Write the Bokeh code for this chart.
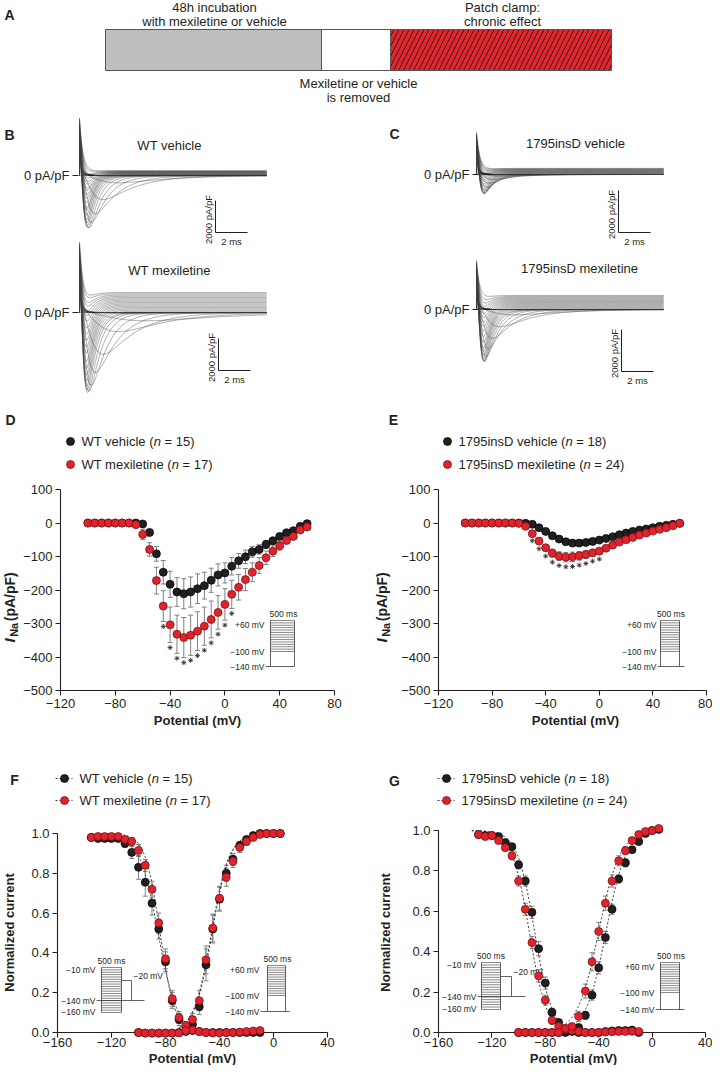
import numpy as np
from bokeh.plotting import figure
from bokeh.models import Range1d, LinearAxis, FixedTicker, Whisker, TeeHead, ColumnDataSource
from bokeh.layouts import column, row
from bokeh.embed import file_html
from bokeh.resources import INLINE
from bokeh.core.properties import value

# ============================ DATA ============================
# Panels D / E : peak I_Na (pA/pF) versus test potential (mV), mean and SEM
iv_mv = list(range(-100, 65, 5))
wt_vehicle_ina = [0, 0, 0, 0, 0, 0, 0, 0, -3, -28, -92, -147, -183, -206, -211, -206, -196, -187, -171, -155,
                  -149, -129, -113, -101, -86, -79, -64, -53, -40, -29, -23, -10, -2]
wt_vehicle_ina_sem = [0, 0, 0, 0, 0, 0, 0, 0, 3, 8, 22, 35, 39, 43, 45, 45, 44, 40, 36, 33,
                      30, 26, 22, 20, 16, 14, 12, 10, 8, 7, 6, 5, 4]
wt_mexiletine_ina = [0, 0, 0, 0, 0, 0, 0, -5, -34, -79, -172, -248, -304, -332, -342, -335, -323, -308, -288, -267,
                     -243, -213, -192, -169, -147, -127, -104, -84, -68, -52, -40, -21, -12]
wt_mexiletine_ina_sem = [0, 0, 0, 0, 0, 0, 0, 4, 15, 20, 40, 46, 53, 57, 60, 60, 58, 57, 55, 50,
                         47, 42, 38, 33, 28, 24, 20, 16, 13, 10, 8, 6, 5]
wt_signif_mv = [-45, -40, -35, -30, -25, -20, -15, -10, -5, 0, 5]

ins_vehicle_ina = [0, 0, 0, 0, 0, 0, 0, 0, 0, -1, -4, -14, -25, -38, -48, -56, -60, -60, -58, -55,
                   -51, -46, -41, -35, -30, -25, -21, -18, -14, -10, -7, -4, -1]
ins_vehicle_ina_sem = [0, 0, 0, 0, 0, 0, 0, 0, 1, 2, 3, 4, 5, 6, 6, 6, 6, 6, 6, 6,
                       5, 5, 5, 4, 4, 4, 3, 3, 3, 2, 2, 2, 2]
ins_mexiletine_ina = [0, 0, 0, 0, 0, 0, 0, 0, -1, -10, -32, -54, -74, -90, -99, -102, -101, -98, -94, -89,
                      -84, -75, -66, -57, -50, -43, -36, -30, -24, -19, -14, -8, -1]
ins_mexiletine_ina_sem = [0, 0, 0, 0, 0, 0, 0, 0, 2, 4, 6, 8, 10, 12, 13, 14, 14, 13, 12, 10,
                          9, 8, 7, 6, 5, 5, 4, 4, 3, 3, 3, 2, 2]
ins_signif_mv = [-50, -45, -40, -35, -30, -25, -20, -15, -10, -5, 0]

# Panels F / G : normalised steady-state inactivation and activation
wt_inact_mv = list(range(-135, -5, 5))
wt_vehicle_inact = [0.98, 0.975, 0.975, 0.975, 0.975, 0.95, 0.905, 0.83, 0.755, 0.65, 0.52, 0.355, 0.16,
                    0.065, 0.03, 0.01, 0.005, 0.0, 0.0, 0.0, 0.0, 0.0, 0.0, 0.0, 0.0, 0.0]
wt_vehicle_inact_sem = [0.01, 0.01, 0.01, 0.01, 0.01, 0.02, 0.03, 0.06, 0.07, 0.06, 0.05, 0.05, 0.04,
                        0.03, 0.02, 0.01, 0, 0, 0, 0, 0, 0, 0, 0, 0, 0]
wt_mexiletine_inact = [0.98, 0.985, 0.985, 0.985, 0.985, 0.97, 0.96, 0.915, 0.84, 0.72, 0.55, 0.37, 0.17,
                       0.075, 0.035, 0.012, 0.005, 0.0, -0.002, -0.002, 0.0, 0.0, 0.002, 0.005, 0.008, 0.01]
wt_mexiletine_inact_sem = [0.01, 0.01, 0.01, 0.01, 0.01, 0.015, 0.02, 0.03, 0.03, 0.04, 0.05, 0.05, 0.04,
                           0.03, 0.02, 0.01, 0, 0, 0, 0, 0, 0, 0, 0, 0, 0]
act_mv = list(range(-100, 10, 5))
wt_vehicle_act = [0.0, -0.003, -0.003, -0.003, -0.003, -0.003, 0.0, 0.005, 0.04, 0.13, 0.34, 0.52,
                  0.67, 0.80, 0.87, 0.94, 0.97, 0.99, 1.0, 1.0, 1.0, 1.0]
wt_vehicle_act_sem = [0, 0, 0, 0, 0, 0, 0, 0.01, 0.02, 0.04, 0.08, 0.07, 0.06, 0.04, 0.03, 0.02,
                      0.01, 0.01, 0.005, 0, 0, 0]
wt_mexiletine_act = [0.0, -0.003, -0.003, -0.003, -0.003, -0.003, -0.002, 0.01, 0.065, 0.16, 0.365, 0.525,
                     0.675, 0.78, 0.86, 0.93, 0.96, 0.98, 0.995, 1.0, 1.0, 1.0]
wt_mexiletine_act_sem = [0, 0, 0, 0, 0, 0, 0, 0.01, 0.03, 0.05, 0.07, 0.07, 0.06, 0.045, 0.03, 0.025,
                         0.02, 0.01, 0.005, 0, 0, 0]

ins_inact_mv = list(range(-130, -5, 5))
ins_vehicle_inact = [0.98, 0.975, 0.975, 0.97, 0.94, 0.92, 0.83, 0.75, 0.595, 0.415, 0.245, 0.10, 0.05,
                     0.02, 0.005, 0.0, 0.0, 0.0, 0.0, 0.005, 0.008, 0.01, 0.01, 0.012, 0.0]
ins_vehicle_inact_sem = [0.01, 0.01, 0.01, 0.01, 0.015, 0.015, 0.02, 0.025, 0.03, 0.035, 0.03, 0.02, 0.015,
                         0.01, 0.005, 0, 0, 0, 0, 0, 0, 0, 0, 0, 0]
ins_mexiletine_inact = [0.98, 0.97, 0.975, 0.95, 0.915, 0.875, 0.75, 0.61, 0.445, 0.28, 0.16, 0.06, 0.03,
                        0.015, 0.01, 0.005, 0.0, 0.0, 0.0, 0.002, 0.004, 0.005, 0.005, 0.006, 0.005]
ins_mexiletine_inact_sem = [0.01, 0.01, 0.01, 0.01, 0.015, 0.02, 0.025, 0.03, 0.03, 0.03, 0.025, 0.02, 0.015,
                            0.01, 0.005, 0, 0, 0, 0, 0, 0, 0, 0, 0, 0]
ins_vehicle_act = [0.0, 0.0, 0.0, 0.0, 0.0, 0.0, 0.0, 0.0, 0.025, 0.025, 0.085, 0.185, 0.32, 0.47,
                   0.61, 0.76, 0.84, 0.905, 0.945, 0.985, 1.0, 1.005]
ins_vehicle_act_sem = [0, 0, 0, 0, 0, 0, 0, 0.005, 0.01, 0.015, 0.02, 0.025, 0.03, 0.03, 0.025, 0.02,
                       0.02, 0.015, 0.01, 0.005, 0, 0]
ins_mexiletine_act = [0.0, 0.0, 0.0, 0.0, 0.0, 0.0, 0.0, 0.02, 0.03, 0.08, 0.205, 0.35, 0.50, 0.64,
                      0.75, 0.85, 0.90, 0.95, 0.98, 0.995, 1.0, 1.01]
ins_mexiletine_act_sem = [0, 0, 0, 0, 0, 0, 0, 0.01, 0.015, 0.025, 0.035, 0.045, 0.045, 0.035, 0.03, 0.025,
                          0.02, 0.015, 0.01, 0.005, 0, 0]

# Boltzmann fits (V1/2, k) : [vehicle, mexiletine]
wt_inact_vhalf, wt_inact_k = [-85.5, -84.0], [7.0, 5.5]
wt_act_vhalf, wt_act_k = [-45.5, -46.0], [6.5, 6.5]
ins_inact_vhalf, ins_inact_k = [-88.0, -92.0], [6.5, 6.5]
ins_act_vhalf, ins_act_k = [-34.5, -40.0], [7.5, 8.0]

# Legend entries and group sizes
wt_groups = ["WT vehicle", "WT mexiletine"]
wt_n = [15, 17]
ins_groups = ["1795insD vehicle", "1795insD mexiletine"]
ins_n = [18, 24]

# Representative traces (B, C): per-cell peak inward, capacitive and late outward amplitude (pA/pF)
trace_names = ["WT vehicle", "WT mexiletine", "1795insD vehicle", "1795insD mexiletine"]
trace_peak = [3440, 5190, 1050, 2620]
trace_spike = [3600, 4400, 2000, 2330]
trace_plateau = [300, 1250, 290, 670]
scale_bar_ms = 2
scale_bar_pa = 2000

# Axis ticks
iv_xticks = [-120, -80, -40, 0, 40, 80]
iv_xtick_labels = ["\u2212120", "\u221280", "\u221240", "0", "40", "80"]
iv_yticks = [100, 0, -100, -200, -300, -400, -500]
iv_ytick_labels = ["100", "0", "\u2212100", "\u2212200", "\u2212300", "\u2212400", "\u2212500"]
ss_xticks = [-160, -120, -80, -40, 0, 40]
ss_xtick_labels = ["\u2212160", "\u2212120", "\u221280", "\u221240", "0", "40"]
ss_yticks = [0.0, 0.2, 0.4, 0.6, 0.8, 1.0]
ss_ytick_labels = ["0.0", "0.2", "0.4", "0.6", "0.8", "1.0"]

# ============================ STYLE ============================
FONT = "Liberation Sans"
INK = "#231f20"
RED = "#e1242b"
RED_EDGE = "#6e0f12"
BLACK_EDGE = "#000000"
ERR = "#808080"
LINE = "#3a3a3a"
NBSP = "\u00a0"

W_REG = {' ': 278, NBSP: 278, '(': 333, ')': 333, '=': 584, 'W': 944, 'T': 611, 'D': 722, 'I': 278,
         'v': 500, 'e': 556, 'h': 556, 'i': 222, 'c': 500, 'l': 222, 'm': 833, 'x': 500, 't': 278,
         'n': 556, 's': 500}


def text_w(s, size):
    return sum(W_REG.get(ch, 556) for ch in s) * size / 1000.0


class Box:
    """Maps reference-picture pixels onto a panel's own data scale."""

    def __init__(self, l, t, w, h, ax_px, ax_val, kx, ay_px, ay_val, ky):
        self.l, self.t, self.w, self.h = l, t, w, h
        self.ax_px, self.ax_val, self.kx = ax_px, ax_val, kx
        self.ay_px, self.ay_val, self.ky = ay_px, ay_val, ky

    def x(self, px):
        return self.ax_val + (np.asarray(px, float) - self.ax_px) / self.kx

    def y(self, py):
        return self.ay_val - (np.asarray(py, float) - self.ay_px) / self.ky

    def fig(self):
        p = figure(width=self.w, height=self.h,
                   x_range=Range1d(float(self.x(self.l)), float(self.x(self.l + self.w))),
                   y_range=Range1d(float(self.y(self.t + self.h)), float(self.y(self.t))),
                   x_axis_type=None, y_axis_type=None, output_backend="svg",
                   toolbar_location=None, min_border=0)
        p.outline_line_color = None
        p.background_fill_color = "white"
        p.border_fill_color = "white"
        return p


def txt(p, b, px, py, s, size=13, style="normal", align="left", base="middle", angle=0.0, color=INK):
    p.text(x=[float(b.x(px))], y=[float(b.y(py))], text=[s], text_font=value(FONT),
           text_font_size=value(f"{size}px"), text_font_style=value(style), text_align=value(align),
           text_baseline=value(base), angle=angle, text_color=color)


def pline(p, b, pts, color=LINE, width=1.0):
    p.line([float(b.x(q[0])) for q in pts], [float(b.y(q[1])) for q in pts],
           line_color=color, line_width=width)


def segs(p, b, x0, y0, x1, y1, color=LINE, width=0.8):
    p.segment(x0=list(b.x(x0)), y0=list(b.y(y0)), x1=list(b.x(x1)), y1=list(b.y(y1)),
              line_color=color, line_width=width)


def axes(p, xticks, xlabels, xfix, yticks, ylabels, yfix, xstandoff=3):
    xa = LinearAxis(fixed_location=xfix, bounds=(min(xticks), max(xticks)), ticker=FixedTicker(ticks=xticks),
                    major_label_overrides={float(t): s for t, s in zip(xticks, xlabels)})
    ya = LinearAxis(fixed_location=yfix, bounds=(min(yticks), max(yticks)), ticker=FixedTicker(ticks=yticks),
                    major_label_overrides={float(t): s for t, s in zip(yticks, ylabels)})
    for ax in (xa, ya):
        ax.axis_line_color = INK
        ax.axis_line_width = 1.1
        ax.major_tick_line_color = INK
        ax.major_tick_line_width = 1.1
        ax.major_tick_out = 5
        ax.major_tick_in = 0
        ax.minor_tick_line_color = None
        ax.major_label_text_font = FONT
        ax.major_label_text_font_size = "13px"
        ax.major_label_text_color = INK
        ax.major_label_standoff = 3
    xa.major_label_standoff = xstandoff
    p.add_layout(xa, "below")
    p.add_layout(ya, "left")


def errbars(p, v, m, s):
    v, m, s = (np.asarray(a, float) for a in (v, m, s))
    keep = s > 0
    src = ColumnDataSource(dict(base=v[keep], lower=(m - s)[keep], upper=(m + s)[keep]))
    p.add_layout(Whisker(source=src, base="base", lower="lower", upper="upper", dimension="height",
                         line_color=ERR, line_width=1,
                         upper_head=TeeHead(size=5, line_color=ERR, line_width=1),
                         lower_head=TeeHead(size=5, line_color=ERR, line_width=1)))


def dots(p, v, m, red):
    p.scatter(v, m, size=8, marker="circle", fill_color=RED if red else INK,
              line_color=RED_EDGE if red else BLACK_EDGE, line_width=0.7, level="overlay")


def legend(p, b, xdot, xtxt, ys, names, ns, dotted):
    for i, (name, n, py) in enumerate(zip(names, ns, ys)):
        red = i == 1
        if dotted:
            p.line([float(b.x(xdot - 9)), float(b.x(xdot + 8))], [float(b.y(py))] * 2,
                   line_color=LINE, line_width=1, line_dash="2 2")
        p.scatter([float(b.x(xdot))], [float(b.y(py))], size=8, marker="circle",
                  fill_color=RED if red else INK, line_color=RED_EDGE if red else BLACK_EDGE,
                  line_width=0.7, level="overlay")
        pre = f"{name} ("
        txt(p, b, xtxt, py, pre)
        x2 = xtxt + text_w(pre, 13)
        txt(p, b, x2, py, "n", style="italic")
        txt(p, b, x2 + text_w("n", 13), py, f"{NBSP}={NBSP}{n})")


def ina_label(p, b, xc, ybottom):
    txt(p, b, xc, ybottom, "I", size=15, style="bold italic", angle=np.pi / 2)
    y = ybottom - 278 * 15 / 1000 - 1.5
    txt(p, b, xc + 4, y, "Na", size=11, style="bold", angle=np.pi / 2)
    y -= 1278 * 11 / 1000 + 1.5
    txt(p, b, xc, y, "(pA/pF)", size=14, style="bold", angle=np.pi / 2)


def act_protocol(p, b, xl, xr, ytop, ymid, ybot, xlab, xend, nlines=14):
    segs(p, b, [xl, xr], [ytop, ytop], [xl, xr], [ybot, ybot])
    hy = np.linspace(ytop, ymid, nlines)
    segs(p, b, [xl] * nlines, hy, [xr] * nlines, hy, width=0.6)
    segs(p, b, [xlab + 1], [ybot], [xend], [ybot])
    txt(p, b, (xl + xr) / 2 + 1, ytop - 2, "500 ms", size=8.5, align="center", base="bottom")
    txt(p, b, xlab, ytop + 4, "+60 mV", size=8.5, align="right")
    txt(p, b, xlab, ymid, "\u2212100 mV", size=8.5, align="right")
    txt(p, b, xlab, ybot, "\u2212140 mV", size=8.5, align="right")


def inact_protocol(p, b, xl, xr, ytop, ybot, y140, ystep, xstep, xend, xlab, nlines=20):
    segs(p, b, [xl, xr], [ytop, ytop], [xl, xr], [ybot, ybot])
    hy = np.linspace(ytop, ybot, nlines)
    segs(p, b, [xl] * nlines, hy, [xr] * nlines, hy, width=0.6)
    segs(p, b, [xlab + 1], [y140], [xend], [y140])
    pline(p, b, [(xr, ystep), (xstep, ystep), (xstep, y140)], width=0.8)
    txt(p, b, (xl + xr) / 2, ytop - 2, "500 ms", size=8.5, align="center", base="bottom")
    txt(p, b, xlab, ytop + 2, "\u221210 mV", size=8.5, align="right")
    txt(p, b, xlab, y140, "\u2212140 mV", size=8.5, align="right")
    txt(p, b, xlab, ybot - 1, "\u2212160 mV", size=8.5, align="right")
    txt(p, b, xstep + 2, ystep - 5, "\u221220 mV", size=8.5)


# ============================ PANEL A ============================
bA = Box(8, 8, 712, 110, 0, 0, 1, 0, 0, -1)
pA = bA.fig()
txt(pA, bA, 17, 22, "A", size=14, style="bold", align="center")
pA.quad(left=[float(bA.x(113))], right=[float(bA.x(329))], top=[float(bA.y(37))], bottom=[float(bA.y(78))],
        fill_color="#bcbec0", line_color="#555555", line_width=1)
pA.quad(left=[float(bA.x(329))], right=[float(bA.x(398))], top=[float(bA.y(37))], bottom=[float(bA.y(78))],
        fill_color="white", line_color="#555555", line_width=1)
pA.quad(left=[float(bA.x(398))], right=[float(bA.x(619))], top=[float(bA.y(37))], bottom=[float(bA.y(78))],
        fill_color="#e4262c", line_color="#555555", line_width=1,
        hatch_pattern="/", hatch_color="#1a1a1a", hatch_alpha=0.9, hatch_scale=10, hatch_weight=1.0)
txt(pA, bA, 222, 14.5, "48h incubation", align="center")
txt(pA, bA, 222, 28.5, "with mexiletine or vehicle", align="center")
txt(pA, bA, 510, 14.5, "Patch clamp:", align="center")
txt(pA, bA, 510, 28.5, "chronic effect", align="center")
txt(pA, bA, 366, 91, "Mexiletine or vehicle", align="center")
txt(pA, bA, 366, 105, "is removed", align="center")

# ============================ PANELS B / C ============================
trace_t = np.concatenate([np.linspace(0.0, 1.2, 200), np.linspace(1.2, 11.7, 300)[1:]])


def trace_family(iv, peak, spike, plateau):
    iv = np.asarray(iv, float)
    frac = iv / iv.min()
    xs, ys = [], []
    for V, f in zip(iv_mv, frac):
        vk = max(V, -60)
        tm = 0.2 + 0.9 * np.exp(-(vk + 55) / 7.0)
        th = 0.4 + 2.5 * np.exp(-(vk + 55) / 10.0)
        sh = (1 - np.exp(-trace_t / tm)) ** 3 * np.exp(-trace_t / th)
        sh = sh / sh.max()
        cap = spike * (V + 100) / 160.0 * np.exp(-trace_t / 0.22)
        ss = plateau * max(0.0, V + 20) / 80.0 * (1 - np.exp(-trace_t / 0.4))
        cur = -peak * f * sh + cap + ss
        xs.append(np.concatenate([[0.0], trace_t]))
        ys.append(np.concatenate([[0.0], cur]))
    return xs, ys


def trace_panel(p, b, idx, iv, base_py, label_xy, bar_xy, zero_right):
    base = float(b.y(base_py))
    xs, ys = trace_family(iv, trace_peak[idx], trace_spike[idx], trace_plateau[idx])
    p.multi_line([list(x) for x in xs], [list(y + base) for y in ys], line_color="#3d3d3d",
                 line_width=0.5, line_alpha=0.85)
    txt(p, b, label_xy[0], label_xy[1], trace_names[idx], align="center")
    txt(p, b, zero_right, base_py, "0 pA/pF", align="right")
    pline(p, b, [(zero_right + 3, base_py), (zero_right + 9, base_py)], color=INK, width=1)
    cx, cy = float(b.x(bar_xy[0])), float(b.y(bar_xy[1]))
    p.line([cx, cx, cx + scale_bar_ms], [cy + scale_bar_pa, cy, cy], line_color=INK, line_width=1)
    txt(p, b, bar_xy[0] - 1.5, float(bar_xy[1]) - (scale_bar_pa * b.ky) / 2 + 3, f"{scale_bar_pa} pA/pF",
        size=9.5, align="center", base="bottom", angle=np.pi / 2)
    txt(p, b, bar_xy[0] + scale_bar_ms * b.kx / 2, bar_xy[1] + 3, f"{scale_bar_ms} ms", size=9.5,
        align="center", base="top")


bB = Box(8, 118, 356, 297, 87, 0.0, 16.0, 320, 0.0, 1 / 62.5)
pB = bB.fig()
txt(pB, bB, 17, 142, "B", size=14, style="bold", align="center")
trace_panel(pB, bB, 0, wt_vehicle_ina, 183, (177, 153), (223, 240), 77)
trace_panel(pB, bB, 1, wt_mexiletine_ina, 320, (177, 278), (226, 378), 77)

bC = Box(364, 118, 356, 297, 484, 0.0, 16.0, 317, 0.0, 1 / 47.6)
pC = bC.fig()
txt(pC, bC, 402, 141, "C", size=14, style="bold", align="center")
trace_panel(pC, bC, 2, ins_vehicle_ina, 182, (583, 151), (626, 240), 477)
trace_panel(pC, bC, 3, ins_mexiletine_ina, 317, (587, 276), (629, 379), 477)

# ============================ PANELS D / E ============================


def iv_panel(b, letter, letter_xy, veh, veh_sem, mex, mex_sem, signif, names, ns, leg_x, ylab_x, inset):
    p = b.fig()
    axes(p, iv_xticks, iv_xtick_labels, -500, iv_yticks, iv_ytick_labels, -120)
    txt(p, b, letter_xy[0], letter_xy[1], letter, size=14, style="bold", align="center")
    errbars(p, iv_mv, veh, veh_sem)
    errbars(p, iv_mv, mex, mex_sem)
    dots(p, iv_mv, veh, False)
    dots(p, iv_mv, mex, True)
    idx = [iv_mv.index(v) for v in signif]
    ys = [mex[i] - mex_sem[i] - 5.0 / b.ky for i in idx]
    p.scatter(signif, ys, marker="asterisk", size=5, line_color="#333333", line_width=0.9)
    legend(p, b, leg_x, leg_x + 11, [449, 472], names, ns, False)
    txt(p, b, b.ax_px + 137, 728, "Potential (mV)", style="bold", align="center")
    ina_label(p, b, ylab_x, 650)
    act_protocol(p, b, *inset)
    return p


bD = Box(8, 415, 356, 335, 68, -120.0, 1.37, 698, -500.0, 0.335)
pD = iv_panel(bD, "D", (18, 427), wt_vehicle_ina, wt_vehicle_ina_sem, wt_mexiletine_ina, wt_mexiletine_ina_sem,
              wt_signif_mv, wt_groups, wt_n, 78, 17, (278, 302, 628, 659, 674, 272, 302))
bE = Box(364, 415, 356, 335, 446, -120.0, 1.34, 698, -500.0, 0.335)
pE = iv_panel(bE, "E", (401, 427), ins_vehicle_ina, ins_vehicle_ina_sem, ins_mexiletine_ina,
              ins_mexiletine_ina_sem, ins_signif_mv, ins_groups, ins_n, 455, 389,
              (668, 687, 628, 659, 674, 664, 692))

# ============================ PANELS F / G ============================


def boltz_inact(v, vh, k):
    return 1.0 / (1.0 + np.exp((v - vh) / k))


def boltz_act(v, vh, k):
    return 1.0 / (1.0 + np.exp((vh - v) / k))


def ss_panel(b, letter, letter_xy, inact_mv, inact, act, ivh, ik, avh, ak, names, ns, leg_x,
             ylab_x, inact_inset, act_inset):
    p = b.fig()
    axes(p, ss_xticks, ss_xtick_labels, 0.0, ss_yticks, ss_ytick_labels, -160, xstandoff=0)
    txt(p, b, letter_xy[0], letter_xy[1], letter, size=14, style="bold", align="center")
    vi = np.linspace(-135, -55, 200)
    va = np.linspace(-70, 5, 200)
    for j in range(2):
        p.line(vi, boltz_inact(vi, ivh[j], ik[j]), line_color=LINE, line_width=1, line_dash="2 2")
        p.line(va, boltz_act(va, avh[j], ak[j]), line_color=LINE, line_width=1, line_dash="2 2")
    for j in range(2):
        errbars(p, inact_mv, inact[j][0], inact[j][1])
        errbars(p, act_mv, act[j][0], act[j][1])
    for j in range(2):
        dots(p, inact_mv, inact[j][0], j == 1)
        dots(p, act_mv, act[j][0], j == 1)
    legend(p, b, leg_x, leg_x + 15, [786, 808], names, ns, True)
    txt(p, b, b.ax_px + 135, 1073, "Potential (mV)", style="bold", align="center", base="bottom")
    txt(p, b, ylab_x, 940, "Normalized current", style="bold", align="center", angle=np.pi / 2)
    inact_protocol(p, b, *inact_inset)
    act_protocol(p, b, *act_inset)
    return p


bF = Box(8, 750, 356, 323, 65, -160.0, 1.35, 1040, 0.0, 199.0)
pF = ss_panel(bF, "F", (22, 787), wt_inact_mv,
              [(wt_vehicle_inact, wt_vehicle_inact_sem), (wt_mexiletine_inact, wt_mexiletine_inact_sem)],
              [(wt_vehicle_act, wt_vehicle_act_sem), (wt_mexiletine_act, wt_mexiletine_act_sem)],
              wt_inact_vhalf, wt_inact_k, wt_act_vhalf, wt_act_k, wt_groups, wt_n, 72, 17,
              (109, 129, 975, 1020, 1008, 988, 139, 152, 103),
              (275, 293, 973, 1003, 1019, 267, 297))
bG = Box(364, 750, 356, 323, 446, -160.0, 1.335, 1040, 0.0, 202.0)
pG = ss_panel(bG, "G", (402, 788), ins_inact_mv,
              [(ins_vehicle_inact, ins_vehicle_inact_sem), (ins_mexiletine_inact, ins_mexiletine_inact_sem)],
              [(ins_vehicle_act, ins_vehicle_act_sem), (ins_mexiletine_act, ins_mexiletine_act_sem)],
              ins_inact_vhalf, ins_inact_k, ins_act_vhalf, ins_act_k, ins_groups, ins_n, 454, 393,
              (489, 508, 970, 1017, 1004, 984, 519, 533, 484),
              (668, 687, 970, 1000, 1017, 662, 692))

layout = column(pA, row(pB, pC), row(pD, pE), row(pF, pG))
open("out.html", "w").write(file_html(layout, INLINE))
